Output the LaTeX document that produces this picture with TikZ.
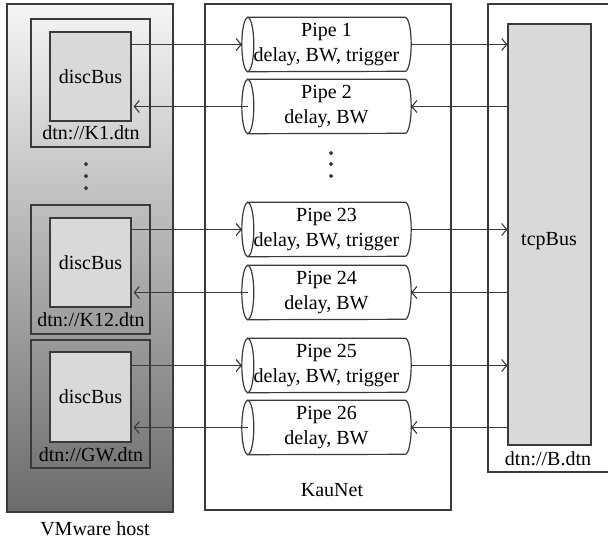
\documentclass[tikz,border=0pt]{standalone}
\usepackage{fontspec}
\setmainfont{Liberation Serif}
\usetikzlibrary{arrows.meta}
\definecolor{ln}{HTML}{3A3A3A}
\definecolor{boxgray}{HTML}{D9D9D9}
\newcommand\pipenode[3]{%
  \node[pipebox] (#1) at (326.5,#2) {};
  \path[ln, fill=white] (#1.north west) -- (#1.north east)
     arc[start angle=90, end angle=-90, x radius=6pt, y radius=27pt]
     -- (#1.south west) -- cycle;
  \path[ln, fill=white] (#1.west) ellipse[x radius=6pt, y radius=27pt];
  \node[pipetext] (#1t) at (#1) {#3};
}
\begin{document}
\begin{tikzpicture}[x=1pt,y=-1pt,
  font=\fontsize{20}{25}\selectfont,
  ln/.style={draw=ln, line width=1.2pt},
  hostbox/.style={draw=ln, line width=1.4pt, top color=white!96!black, bottom color=black!58,
     minimum width=166pt, minimum height=508pt, inner sep=0pt},
  netbox/.style={draw=ln, line width=1.4pt, fill=white, minimum width=246pt, minimum height=506pt, inner sep=0pt},
  nodebox/.style={draw=ln, line width=1.3pt, minimum width=119pt, inner sep=0pt},
  busbox/.style={draw=ln, line width=1.2pt, fill=boxgray, inner sep=0pt},
  pipebox/.style={minimum width=157pt, minimum height=54pt, inner sep=0pt},
  pipetext/.style={align=center, inner sep=0pt},
  arr/.style={draw=ln, line width=1.1pt, -{Straight Barb[length=5pt,width=12pt,line width=1.1pt]}},
  lbl/.style={inner sep=0pt},
]
\useasboundingbox (0,0) rectangle (608,541);

% containers
\node[hostbox] (host) at (90,258) {};
\node[netbox] (kaunet) at (328,257) {};
\draw[ln, line width=1.4pt] (612,4) -- (488,4) -- (488,472) -- (612,472);

% tcpBus
\node[busbox, minimum width=83pt, minimum height=421pt] (tcp) at (549.5,234.5) {};
\node[lbl] (tcplbl) at (549,241) {tcpBus};
\node[lbl] (blbl) at (548,459) {dtn://B.dtn};

% left nodes
\node[nodebox, minimum height=128pt] (o1) at (90.5,83) {};
\node[busbox, minimum width=81pt, minimum height=89pt] (k1) at (90.5,76.5) {discBus};
\node[lbl] (l1) at (91,133) {dtn://K1.dtn};

\node[nodebox, minimum height=129pt] (o12) at (90.5,269.5) {};
\node[busbox, minimum width=81pt, minimum height=89pt] (k12) at (90.5,262.5) {discBus};
\node[lbl] (l12) at (91,320) {dtn://K12.dtn};

\node[nodebox, minimum height=128pt] (ogw) at (90.5,404) {};
\node[busbox, minimum width=81pt, minimum height=90pt] (gw) at (90.5,397) {discBus};
\node[lbl] (lgw) at (91,455) {dtn://GW.dtn};

% dots
\foreach \yy in {164,176,188} \fill[ln] (86,\yy) circle[radius=1.4pt];
\foreach \yy in {153,164,176} \fill[ln] (331,\yy) circle[radius=1.4pt];

% pipes
\pipenode{p1}{44.5}{Pipe 1\\delay, BW, trigger}
\pipenode{p2}{106.5}{Pipe 2\\delay, BW}
\pipenode{p23}{229.5}{Pipe 23\\delay, BW, trigger}
\pipenode{p24}{292.5}{Pipe 24\\delay, BW}
\pipenode{p25}{365.5}{Pipe 25\\delay, BW, trigger}
\pipenode{p26}{427.5}{Pipe 26\\delay, BW}

% arrows left side
\draw[arr] (k1.east |- p1) -- ([xshift=-6pt]p1.west);
\draw[arr] (p2.west) -- ([xshift=2pt]k1.east |- p2);
\draw[arr] (k12.east |- p23) -- ([xshift=-6pt]p23.west);
\draw[arr] (p24.west) -- ([xshift=2pt]k12.east |- p24);
\draw[arr] (gw.east |- p25) -- ([xshift=-6pt]p25.west);
\draw[arr] (p26.west) -- ([xshift=2pt]gw.east |- p26);

% arrows right side
\draw[arr] ([xshift=6pt]p1.east) -- (tcp.west |- p1);
\draw[arr] (tcp.west |- p2) -- ([xshift=6pt]p2.east);
\draw[arr] ([xshift=6pt]p23.east) -- (tcp.west |- p23);
\draw[arr] (tcp.west |- p24) -- ([xshift=6pt]p24.east);
\draw[arr] ([xshift=6pt]p25.east) -- (tcp.west |- p25);
\draw[arr] (tcp.west |- p26) -- ([xshift=6pt]p26.east);

% captions
\node[lbl] (kaulbl) at (332,490) {KauNet};
\node[lbl] (hostlbl) at (95,529) {VMware host};
\end{tikzpicture}
\end{document}
